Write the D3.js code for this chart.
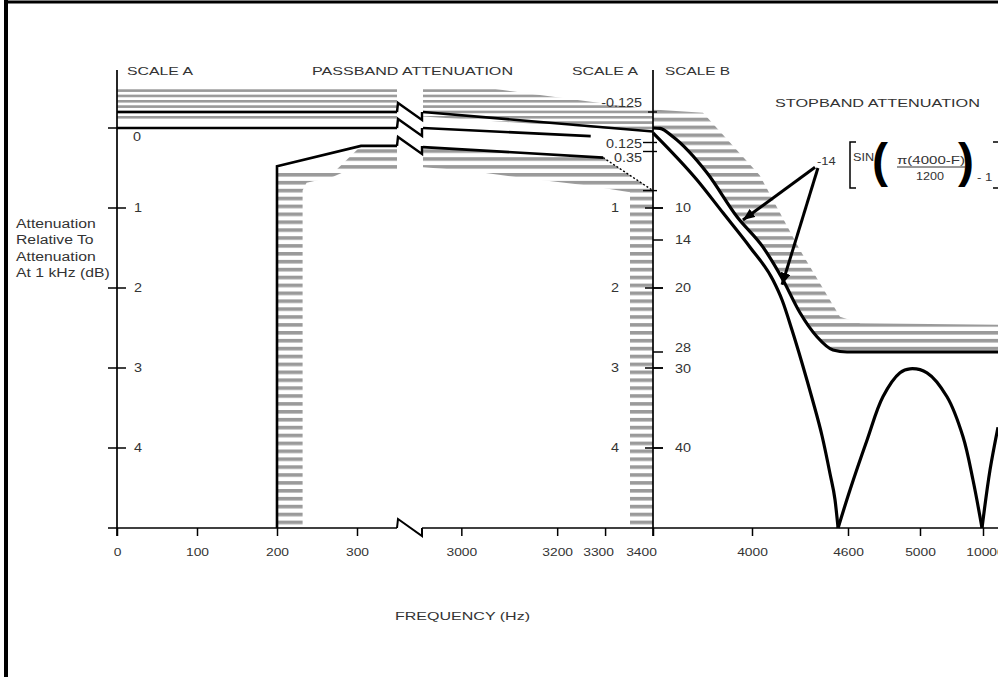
<!DOCTYPE html>
<html>
<head>
<meta charset="utf-8">
<script src="https://cdn.jsdelivr.net/npm/d3@7"></script>
<style>
    body { margin: 0; background: #fff; }
    svg { display: block; }
    text { font-family: "Liberation Sans", Arial, sans-serif; fill: #333; }
</style>
</head>
<body>
<script>
// x axis ticks (Hz)
const freqTicks = [0, 100, 200, 300, 3000, 3200, 3300, 3400, 4000, 4600, 5000, 10000];

// scale A (passband, dB) and scale B (stopband, dB)
const scaleATicks = [1, 2, 3, 4];
const scaleAFine = [-0.125, 0.125, 0.35, 0.8];
const scaleAFineLabels = ['-0.125', '0.125', '0.35', ''];
const scaleBTicks = [10, 14, 20, 28, 30, 40];

// passband lines, [Hz, dB on scale A], split at the axis break
const upperLeft = [[0, -0.125], [350, -0.125]];
const upperRight = [[2920, -0.125], [3400, 0.03]];
const nominalLeft = [[0, 0], [350, 0]];
const nominalRight = [[2920, 0], [3270, 0.07]];
const lowerLeft = [[200, 5], [200, 0.52], [305, 0.21], [350, 0.21]];
const lowerRight = [[2920, 0.24], [3296, 0.42]];
const lowerDotted = [[3296, 0.42], [3400, 0.8]];

// stopband limit and response, [Hz, dB on scale B]
const stopMask = [[3400, 0], [3442, 0.05], [3521, 1.1], [3727, 5.6], [3909, 11.1], [4069, 14.9],
    [4194, 19], [4300, 23.1], [4406, 26.1], [4506, 27.75], [4594, 28], [11000, 28]];
const lobe1 = [[3400, 0.6], [3667, 6.5], [3824, 10.6], [3988, 14.9], [4131, 19], [4188, 21.5],
    [4250, 25.25], [4313, 29.4], [4375, 33.75], [4438, 38.5], [4488, 43.25], [4519, 46.5], [4538, 50]];
const lobe2 = [[4538, 50], [4611, 45.25], [4706, 39], [4794, 33.6], [4889, 30.6], [4944, 30.1],
    [5556, 30.6], [7143, 33.6], [8413, 38.6], [9206, 44], [9921, 50]];
const lobe3 = [[9921, 50], [10467, 42.75], [11000, 37.4]];

// hatched zones (out of limits)
const hatchUpperLeft = [[0, -0.31], [350, -0.31], [350, -0.07], [0, -0.07]];
const hatchUpperRight = [[2920, -0.31], [3060, -0.31], [3400, -0.14], [3400, 0.03], [2920, -0.09]];
const hatchLowerLeft = [[200, 5], [200, 0.58], [272, 0.58], [305, 0.21], [350, 0.21], [350, 0.58],
    [285, 0.58], [270, 0.64], [237, 0.71], [232, 0.8], [232, 5]];
const hatchLowerRight = [[2920, 0.24], [3296, 0.42], [3400, 0.8], [3400, 5], [3352, 5], [3352, 0.82],
    [3264, 0.74], [3122, 0.65], [3012, 0.57], [2920, 0.53]];
const hatchStopTop = [[3400, -2.3], [3703, -1.9], [4048, 5.9], [4300, 15.25], [4550, 23.6], [4667, 24.4], [11000, 24.6]];

// arrows from the formula, [Hz, dB on scale B]
const formulaArrows = [[[4394, 4.9], [3945, 11.5]], [[4412, 5], [4188, 19.6]]];

const stretch = (sel, k) => sel.each(function () {
    let len = this.getComputedTextLength();
    d3.select(this).attr('textLength', len * k).attr('lengthAdjust', 'spacingAndGlyphs');
});

const draw = () => {
    let w = 998,
        h = 677;

    let svg = d3.select('body')
        .append('svg')
        .attr('width', w)
        .attr('height', h);

    //Frequency scale, piecewise with a break between 350 and 2920 Hz
    let x = d3.scaleLinear()
        .domain([0, 350, 2920, 3400, 4000, 4600, 5000, 10000, 11000])
        .range([117, 397, 423, 653, 752, 848, 920, 983, 998]);

    //Scale A is stretched around 0 dB
    let yA = d3.scaleLinear()
        .domain([-0.35, -0.125, 0, 0.125, 0.35, 1, 5])
        .range([83.2, 112, 128, 142.5, 151.5, 208, 528]);

    let yB = d3.scaleLinear()
        .domain([0, 50])
        .range([128, 528]);

    let lineA = d3.line().x(d => x(d[0])).y(d => yA(d[1]));
    let lineB = d3.line().x(d => x(d[0])).y(d => yB(d[1]));

    //Hatch patterns
    let defs = svg.append('defs');
    const addPattern = (id, step, thick, centre) => {
        let p = defs.append('pattern')
            .attr('id', id)
            .attr('patternUnits', 'userSpaceOnUse')
            .attr('x', 0)
            .attr('y', centre - thick / 2)
            .attr('width', 20)
            .attr('height', step);
        p.append('rect')
            .attr('x', 0).attr('y', 0)
            .attr('width', 20).attr('height', thick)
            .attr('fill', '#9a9a9a');
    };
    addPattern('fine', 5.33, 2.6, 90.6);
    addPattern('coarse', 7.9, 3.6, 198.5);

    defs.append('marker')
        .attr('id', 'arrow')
        .attr('viewBox', '0 0 12 10')
        .attr('refX', 12).attr('refY', 5)
        .attr('markerWidth', 12).attr('markerHeight', 10)
        .attr('markerUnits', 'userSpaceOnUse')
        .attr('orient', 'auto')
        .append('path')
        .attr('d', 'M0,0 L12,5 L0,10 Z')
        .attr('fill', '#000');

    //Frame
    svg.append('line').attr('x1', 4).attr('x2', w).attr('y1', 2).attr('y2', 2)
        .attr('stroke', '#000').attr('stroke-width', 3);
    svg.append('line').attr('x1', 6).attr('x2', 6).attr('y1', 0).attr('y2', h)
        .attr('stroke', '#000').attr('stroke-width', 4);

    //Hatched zones
    let hatch = svg.append('g');
    hatch.append('path').attr('d', lineA(hatchUpperLeft) + 'Z').attr('fill', 'url(#fine)');
    hatch.append('path').attr('d', lineA(hatchUpperRight) + 'Z').attr('fill', 'url(#fine)');
    hatch.append('path').attr('d', lineA(hatchLowerLeft) + 'Z').attr('fill', 'url(#coarse)');
    hatch.append('path').attr('d', lineA(hatchLowerRight) + 'Z').attr('fill', 'url(#coarse)');
    hatch.append('path')
        .attr('d', lineB(hatchStopTop.concat(stopMask.slice().reverse())) + 'Z')
        .attr('fill', 'url(#coarse)');

    //Axes
    let x0 = x(0),
        x1 = x(3400),
        yBase = yB(50),
        bx0 = x(350),
        bx1 = x(2920) - 1;

    let ax = svg.append('g').attr('stroke', '#000').attr('fill', 'none');
    ax.append('line').attr('x1', x0).attr('x2', x0).attr('y1', 70).attr('y2', yBase + 8).attr('stroke-width', 1.7);
    ax.append('line').attr('x1', x1).attr('x2', x1).attr('y1', 70).attr('y2', yBase + 8).attr('stroke-width', 1.7);
    ax.append('path')
        .attr('d', `M${x0 - 9},${yBase} H${bx0}`)
        .attr('stroke-width', 1.7);
    ax.append('path')
        .attr('d', `M${bx1},${yBase} H${w}`)
        .attr('stroke-width', 1.7);

    const breakMark = yv => `M${bx0},${yv} L${bx0 + 1},${yv - 9} L${bx1},${yv + 8} L${bx1},${yv}`;
    ax.append('path').attr('d', breakMark(yBase)).attr('stroke-width', 2);

    let xAxis = d3.axisBottom(x)
        .tickValues(freqTicks)
        .tickSize(8)
        .tickPadding(12)
        .tickFormat(d => d);

    let gx = svg.append('g')
        .attr('transform', `translate(0,${yBase})`)
        .call(xAxis);
    gx.select('.domain').remove();
    gx.selectAll('.tick line').attr('stroke', '#000').attr('stroke-width', 1.5);
    gx.selectAll('.tick text')
        .attr('font-size', 11.5)
        .attr('dx', d => d === 3300 ? -7 : d === 3400 ? -12 : d === 10000 ? 2 : 0)
        .call(stretch, 1.2);

    //Scale A on the left axis
    ax.selectAll('.ltick').data(scaleATicks).join('line')
        .attr('x1', x0 - 9).attr('x2', x0 + 9)
        .attr('y1', d => yA(d)).attr('y2', d => yA(d))
        .attr('stroke-width', 1.5);
    svg.append('g').selectAll('text').data(scaleATicks).join('text')
        .attr('x', x0 + 17)
        .attr('y', d => yA(d) + 4)
        .attr('font-size', 12)
        .text(d => d)
        .call(stretch, 1.2);
    svg.append('text')
        .attr('x', x0 + 20).attr('y', yA(0) + 13)
        .attr('text-anchor', 'middle')
        .attr('font-size', 12)
        .text('0')
        .call(stretch, 1.2);

    //Scale A and scale B on the right axis
    ax.selectAll('.rtick').data(scaleATicks).join('line')
        .attr('x1', x1 - 8).attr('x2', x1 + 10)
        .attr('y1', d => yA(d)).attr('y2', d => yA(d))
        .attr('stroke-width', 1.5);
    ax.selectAll('.ftick').data(scaleAFine).join('line')
        .attr('x1', d => d < 0 ? x1 - 5 : x1 - 10).attr('x2', x1 + 4)
        .attr('y1', d => yA(d)).attr('y2', d => yA(d))
        .attr('stroke-width', 1.4);
    ax.selectAll('.btick').data(scaleBTicks).join('line')
        .attr('x1', x1).attr('x2', x1 + 10)
        .attr('y1', d => yB(d)).attr('y2', d => yB(d))
        .attr('stroke-width', 1.5);

    svg.append('g').selectAll('text').data(scaleATicks).join('text')
        .attr('x', x1 - 34)
        .attr('y', d => yA(d) + 4)
        .attr('text-anchor', 'end')
        .attr('font-size', 12)
        .text(d => d)
        .call(stretch, 1.2);
    let fineDy = [-5, 5.5, 10.5, 0];
    svg.append('g').selectAll('text').data(scaleAFine).join('text')
        .attr('x', x1 - 11)
        .attr('y', (d, i) => yA(d) + fineDy[i])
        .attr('text-anchor', 'end')
        .attr('font-size', 12)
        .text((d, i) => scaleAFineLabels[i])
        .call(stretch, 1.2);
    svg.append('g').selectAll('text').data(scaleBTicks).join('text')
        .attr('x', x1 + 22)
        .attr('y', d => yB(d) + (d === 28 ? 0 : d === 30 ? 5 : 4))
        .attr('font-size', 12)
        .text(d => d)
        .call(stretch, 1.2);

    //Passband lines
    let pb = svg.append('g').attr('fill', 'none').attr('stroke', '#000');
    [upperLeft, upperRight, nominalLeft, nominalRight, lowerLeft, lowerRight].forEach(s => {
        pb.append('path').attr('d', lineA(s)).attr('stroke-width', 2.6);
    });
    pb.append('path').attr('d', lineA(lowerDotted)).attr('stroke-width', 1.4).attr('stroke-dasharray', '2,2');
    pb.append('line').attr('x1', x0 - 9).attr('x2', x0).attr('y1', yA(0)).attr('y2', yA(0)).attr('stroke-width', 1.5);
    [upperLeft, nominalLeft, [[0, 0.21]]].forEach(s => {
        pb.append('path').attr('d', breakMark(yA(s[0][1]))).attr('stroke-width', 2.4);
    });

    //Stopband limit and response
    let sb = svg.append('g').attr('fill', 'none').attr('stroke', '#000').attr('stroke-width', 3.2);
    sb.append('path').attr('d', lineB.curve(d3.curveMonotoneX)(stopMask));
    let lobeLine = d3.line().x(d => x(d[0])).y(d => yB(d[1])).curve(d3.curveCatmullRom);
    sb.append('path').attr('d', lineB.curve(d3.curveMonotoneX)(lobe1));
    [lobe2, lobe3].forEach(s => sb.append('path').attr('d', lobeLine(s)));

    //Arrows
    svg.append('g').selectAll('line').data(formulaArrows).join('line')
        .attr('x1', d => x(d[0][0])).attr('y1', d => yB(d[0][1]))
        .attr('x2', d => x(d[1][0])).attr('y2', d => yB(d[1][1]))
        .attr('stroke', '#000')
        .attr('stroke-width', 3)
        .attr('marker-end', 'url(#arrow)');

    //Formula
    let f = svg.append('g');
    f.append('text').attr('x', 817).attr('y', 165).attr('font-size', 10).text('-14').call(stretch, 1.3);
    f.append('path').attr('d', 'M856,142 H850 V188 H856').attr('fill', 'none').attr('stroke', '#000').attr('stroke-width', 1.5);
    f.append('text').attr('x', 853).attr('y', 161).attr('font-size', 11).text('SIN').call(stretch, 1.15);
    f.append('text').attr('x', 872).attr('y', 177).attr('font-size', 48).attr('font-weight', 'bold').style('fill', '#000').text('(');
    f.append('text').attr('x', 897).attr('y', 164).attr('font-size', 10.5).attr('textLength', 68).attr('lengthAdjust', 'spacingAndGlyphs').text('π(4000-F)');
    f.append('line').attr('x1', 897).attr('x2', 965).attr('y1', 167).attr('y2', 167).attr('stroke', '#333').attr('stroke-width', 1);
    f.append('text').attr('x', 930).attr('y', 180).attr('text-anchor', 'middle').attr('font-size', 10.5).text('1200').call(stretch, 1.2);
    f.append('text').attr('x', 958).attr('y', 177).attr('font-size', 48).attr('font-weight', 'bold').style('fill', '#000').text(')');
    f.append('text').attr('x', 977).attr('y', 181).attr('font-size', 11).text('- 1').call(stretch, 1.2);
    f.append('path').attr('d', 'M993,142 H1000 V188 H993').attr('fill', 'none').attr('stroke', '#000').attr('stroke-width', 1.5);

    //Headings
    const heading = (t, xp, yp, len) => svg.append('text')
        .attr('x', xp).attr('y', yp)
        .attr('font-size', 11.5)
        .attr('textLength', len)
        .attr('lengthAdjust', 'spacingAndGlyphs')
        .text(t);
    heading('SCALE A', 127, 75, 66);
    heading('PASSBAND ATTENUATION', 312, 75, 201);
    heading('SCALE A', 572, 75, 66);
    heading('SCALE B', 665, 75, 65);
    heading('STOPBAND ATTENUATION', 775, 107, 205);
    heading('FREQUENCY (Hz)', 395, 620, 135);

    //Y axis title
    svg.append('g').selectAll('text')
        .data(['Attenuation', 'Relative To', 'Attenuation', 'At 1 kHz (dB)'])
        .join('text')
        .attr('x', 16)
        .attr('y', (d, i) => 228 + i * 16.3)
        .attr('font-size', 12.5)
        .text(d => d)
        .call(stretch, 1.26);
};

draw();
</script>
</body>
</html>
